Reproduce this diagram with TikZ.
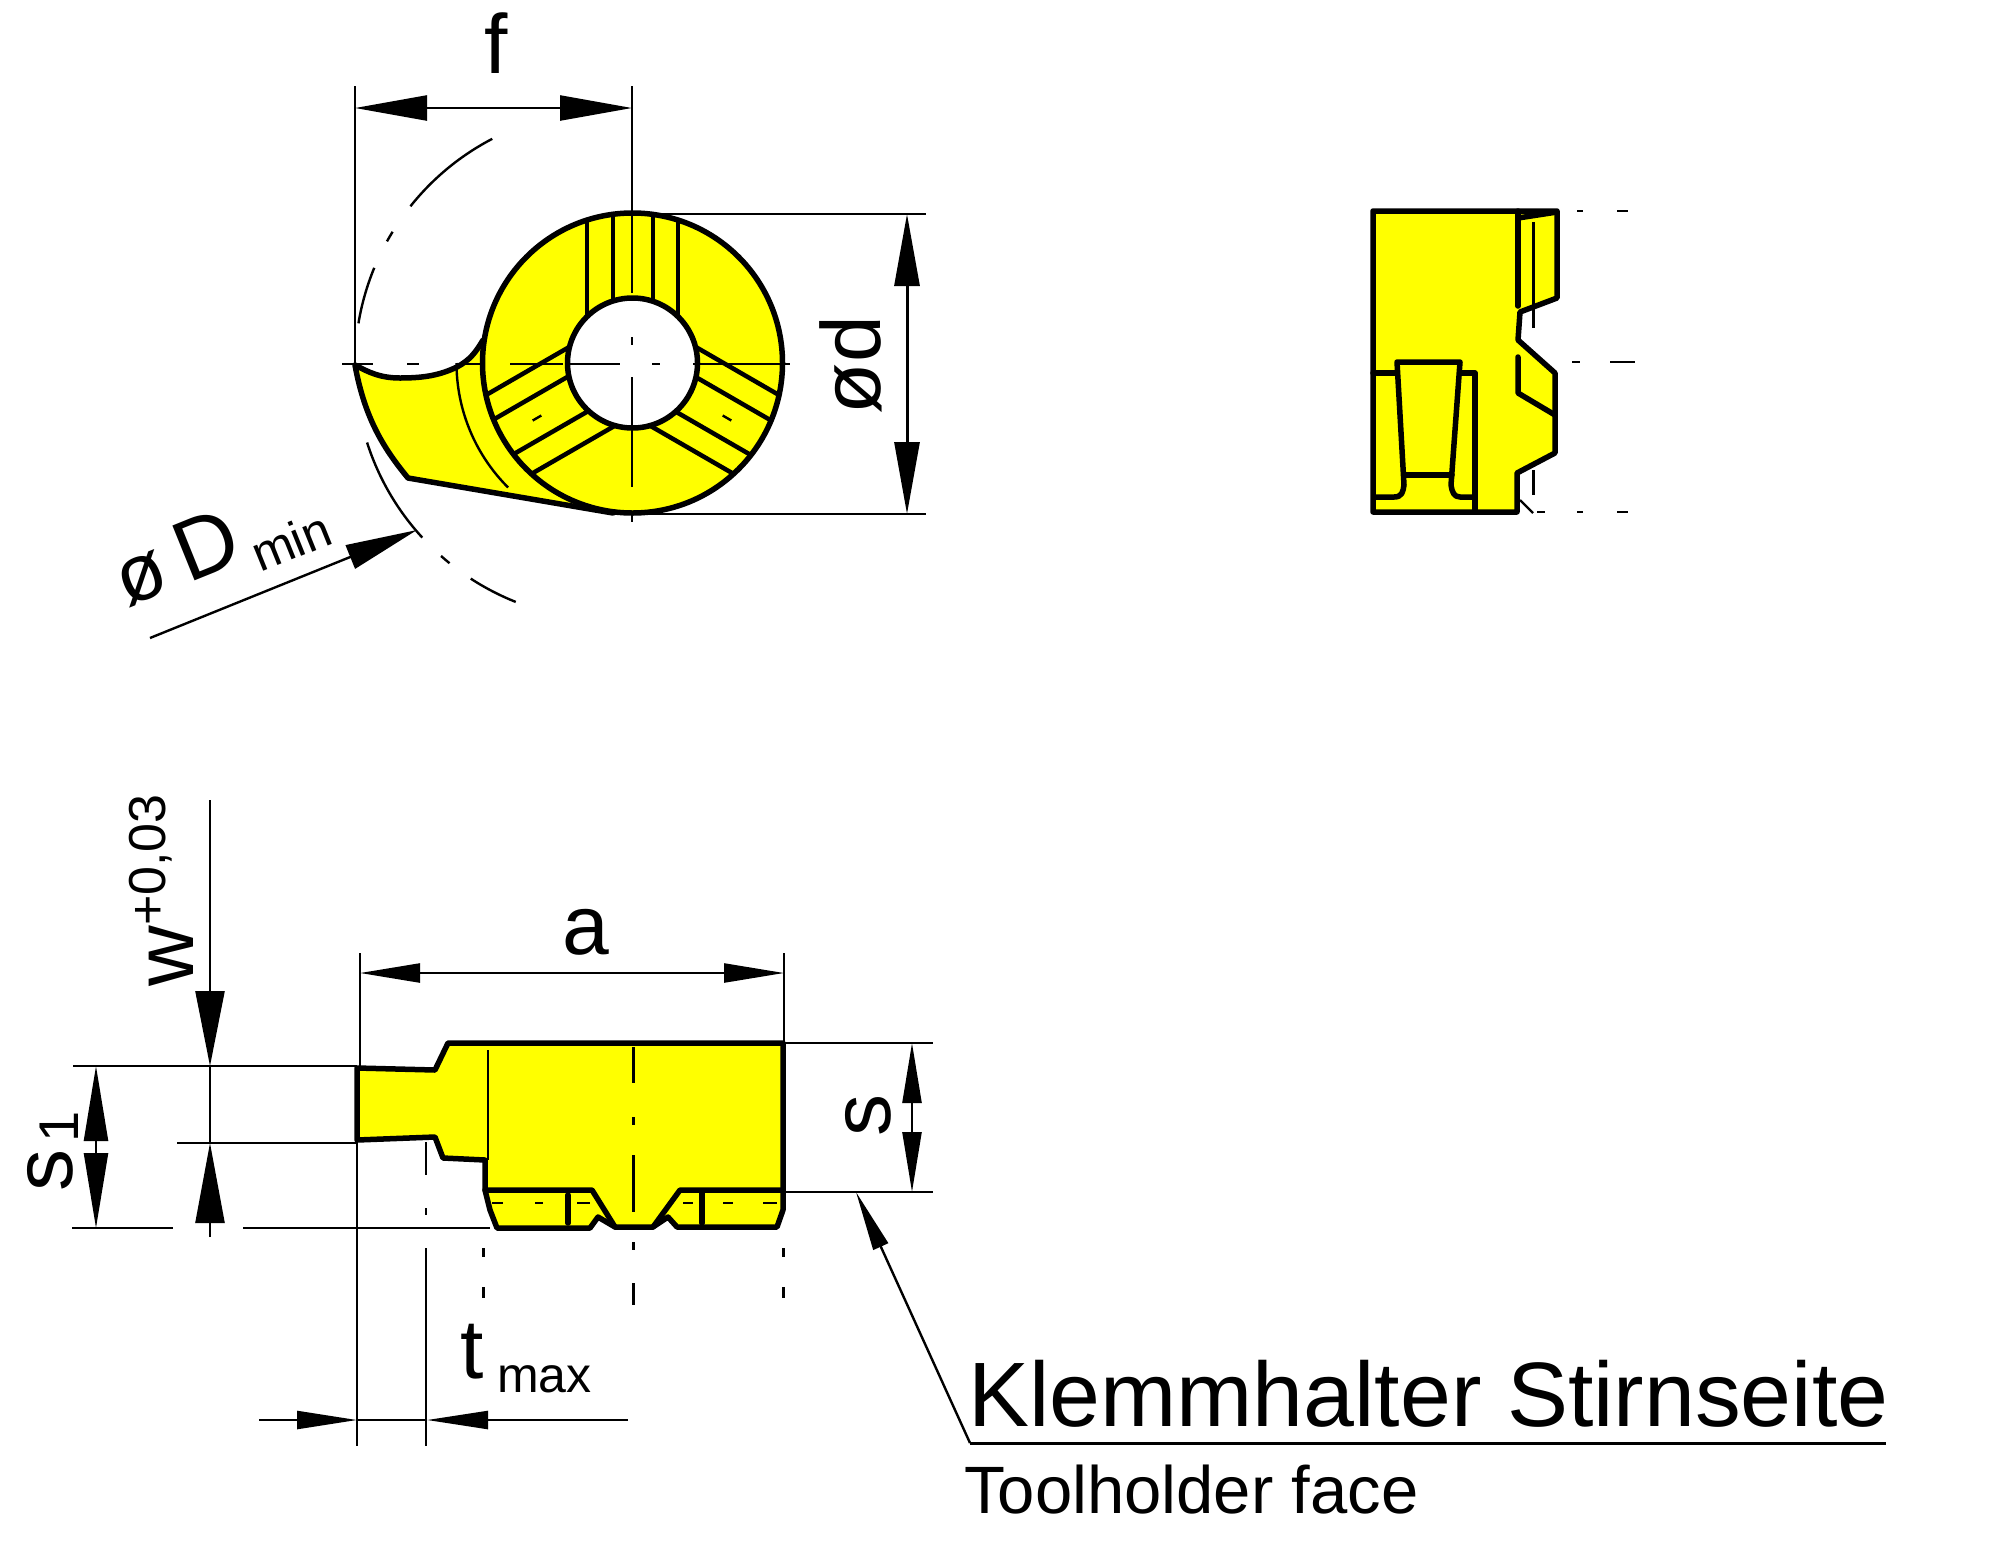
\documentclass[tikz,border=0pt]{standalone}
\usepackage{fontspec}
\setmainfont{Liberation Sans}
\usetikzlibrary{arrows.meta}
\definecolor{insert}{RGB}{255,255,0}
\tikzset{
	outl/.style={line width=5.5pt,line join=round,line cap=round},
	thinl/.style={line width=2.4pt},
	midl/.style={line width=3pt},
	headA/.style={-{Triangle[length=72pt,width=25pt]}},
	headB/.style={-{Triangle[length=60pt,width=19pt]}},
	headC/.style={-{Triangle[length=75pt,width=24pt]}},
	lbl/.style={inner sep=0,anchor=base,font=\fontsize{84}{84}\selectfont},
	lblsub/.style={inner sep=0,anchor=base,font=\fontsize{50}{50}\selectfont}
}
\begin{document}
\begin{tikzpicture}[x=1pt,y=-1pt]
	\useasboundingbox(0,0)rectangle(2008,1559);
	\coordinate(c)at(632.5,363);
	\coordinate(m)at(610,365);
	%end view
	\filldraw[outl,fill=insert](355,365)..controls(368,372)and(380,378)..(400,378)..controls(425,378)and(440,375)..(457,367)..controls(470,360)and(476,352)..(483,340)--(c)--(613,513)--(408,478)..controls(385,450)and(365,420)..(355,365);
	\draw[thinl](c)++(180:176)arc(180:135:176);
	\filldraw[outl,fill=insert](c)circle(150);
	\foreach \a in {0,120,240}{
		\begin{scope}[shift={(c)},rotate=\a]
			\foreach \d in {-45.5,-19.5,20.5,45.5}{
				\pgfmathsetmacro\ro{150*sqrt(1-(\d/150)*(\d/150))}
				\pgfmathsetmacro\ri{65*sqrt(1-(\d/65)*(\d/65))}
				\draw[line width=4.5pt](\d,-\ro)--(\d,-\ri);
			}
		\end{scope}
	}
	\filldraw[outl,fill=white](c)circle(65);
	\foreach \u/\v in {342/373,407/419,457/482,510/563,568/620,652/660,693/790}
		\draw[thinl](\u,364)--(\v,364);
	\foreach \u/\v in {86/293,337/345,377/487,513/522}
		\draw[thinl](632,\u)--(632,\v);
	\draw[thinl,rotate around={30:(537,418)}](532,418)--(542,418);
	\draw[thinl,rotate around={-30:(727,418)}](722,418)--(732,418);
	\foreach \u/\v in {-170.6/-157.6,-151/-148.5,-141.5/-117.5,-197.7/-222.6,-228.5/-231,-236.9/-248.3}
		\draw[thinl](m)++(\u:255)arc(\u:\v:255);
	%dimensions of end view
	\draw[thinl](355,86)--(355,363);
	\draw[thinl,headA](430,108)--(355,108);
	\draw[thinl,headA](430,108)--(632,108);
	\node[lbl](f)at(496,73){f};
	\draw[thinl](650,214)--(926,214);
	\draw[thinl](650,514)--(926,514);
	\draw[midl,headA](907,364)--(907,214);
	\draw[midl,headA](907,364)--(907,514);
	\node[lbl,rotate=90](dd)at(880,365){ød};
	\draw[thinl,headA](150,638)--(417,530);
	\node[lbl,font=\fontsize{80}{80}\selectfont,anchor=base west,rotate=22](dk)at(127,608){ø};
	\node[lbl,font=\fontsize{86}{86}\selectfont,anchor=base west,rotate=22](dD)at(188,584){D};
	\node[lblsub,anchor=base west,rotate=22](dmin)at(260,573){min};
	%side view
	\filldraw[outl,fill=insert](1373,211)--(1557,211)--(1557,298)--(1520,312)--(1518,340)--(1555,373)--(1555,453)--(1517,473)--(1517,512)--(1373,512)--cycle;
	\draw[outl](1518,211)--(1518,306);
	\draw[outl](1518,218)--(1557,212);
	\draw[outl](1518,357)--(1518,393)--(1555,415);
	\draw[line width=3pt](1533,222)--(1533,328);
	\draw[line width=3pt](1533,470)--(1533,495);
	\draw[thinl](1520,500)--(1533,513);
	\draw[outl](1373,373)--(1395,373);
	\draw[outl](1460,373)--(1475,373)--(1475,512);
	\draw[outl](1375,497)--(1394,497)..controls(1402,497)and(1403,492)..(1404,485)--(1397,362)--(1460,362)--(1451,485)..controls(1452,492)and(1454,497)..(1460,497)--(1475,497);
	\draw[outl](1405,475)--(1452,475);
	\foreach \y/\u/\v in {211/1577/1583,211/1617/1628,362/1572/1580,362/1610/1635,512/1537/1545,512/1577/1583,512/1617/1628}
		\draw[thinl](\u,\y)--(\v,\y);
	%top view
	\filldraw[outl,fill=insert](357,1068)--(435,1070)--(448,1043)--(783,1043)--(783,1210)--(777,1227)--(677,1227)--(668,1217)--(653,1227)--(615,1227)--(598,1217)--(590,1228)--(497,1228)--(490,1210)--(485,1190)--(485,1160)--(443,1158)--(435,1137)--(357,1140)--cycle;
	\draw[outl](485,1190)--(592,1190)--(615,1227);
	\draw[outl](783,1190)--(680,1190)--(653,1227);
	\draw[outl](568,1195)--(568,1223);
	\draw[outl](702,1193)--(702,1223);
	\draw[thinl](488,1050)--(488,1160);
	\foreach \u/\v in {1047/1083,1117/1125,1155/1212,1242/1250,1283/1305}
		\draw[midl](633,\u)--(633,\v);
	\foreach \u/\v in {492/503,535/543,577/590,683/693,723/733,763/777}
		\draw[thinl](\u,1203)--(\v,1203);
	\foreach \u/\v in {1142/1175,1208/1215,1248/1446}
		\draw[thinl](426,\u)--(426,\v);
	\foreach \u/\v in {1248/1257,1287/1298}{
		\draw[midl](483,\u)--(483,\v);
		\draw[midl](783,\u)--(783,\v);
	}
	%dimensions of top view
	\draw[thinl](360,953)--(360,1068);
	\draw[thinl](784,953)--(784,1043);
	\draw[thinl,headB](570,973)--(360,973);
	\draw[thinl,headB](570,973)--(784,973);
	\node[lbl](a)at(586,954){a};
	\draw[thinl](784,1043)--(933,1043);
	\draw[thinl](784,1192)--(933,1192);
	\draw[thinl,headB](912,1118)--(912,1043);
	\draw[thinl,headB](912,1118)--(912,1192);
	\node[lbl,rotate=90](s)at(890,1115){s};
	\draw[thinl](73,1066)--(357,1066);
	\draw[thinl](177,1143)--(357,1143);
	\draw[thinl](72,1228)--(173,1228);
	\draw[thinl](243,1228)--(490,1228);
	\draw[thinl,headC](96,1146)--(96,1066);
	\draw[thinl,headC](96,1146)--(96,1228);
	\node[lbl,rotate=90](si)at(72,1170){s};
	\node[lbl,font=\fontsize{56}{56}\selectfont,rotate=90](sj)at(78,1127){1};
	\draw[thinl,-{Triangle[length=75pt,width=29pt]}](210,800)--(210,1066);
	\draw[thinl](210,1066)--(210,1143);
	\draw[thinl,-{Triangle[length=80pt,width=29pt]}](210,1237)--(210,1143);
	\node[lbl,rotate=90](w)at(193,956){w};
	\node[lbl,font=\fontsize{52}{52}\selectfont,rotate=90](wt)at(165,860){+0,03};
	\draw[thinl](357,1140)--(357,1446);
	\draw[thinl,-{Triangle[length=60pt,width=18pt]}](259,1420)--(357,1420);
	\draw[thinl](357,1420)--(427,1420);
	\draw[thinl,-{Triangle[length=61pt,width=18pt]}](628,1420)--(427,1420);
	\node[lbl,anchor=base west](t)at(460,1378){t};
	\node[lblsub,anchor=base west](tmax)at(497,1392){max};
	%toolholder note
	\draw[thinl,-{Triangle[length=60pt,width=16pt]}](970,1443)--(856,1192);
	\draw[midl](970,1443)--(1886,1443);
	\node[lbl,font=\fontsize{91.5}{91.5}\selectfont,anchor=base west](kl)at(968,1426){Klemmhalter Stirnseite};
	\node[lbl,font=\fontsize{67}{67}\selectfont,anchor=base west](th)at(964,1513){Toolholder face};
\end{tikzpicture}
\end{document}
